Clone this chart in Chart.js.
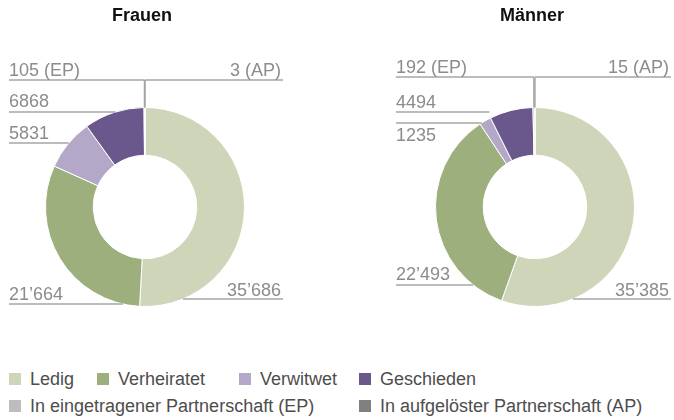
<!DOCTYPE html>
<html>
<head>
<meta charset="utf-8">
<script src="https://cdn.jsdelivr.net/npm/chart.js@4.4.0/dist/chart.umd.min.js"></script>
<style>
  html, body { margin: 0; padding: 0; background: #fff; }
  body { width: 674px; height: 420px; position: relative; overflow: hidden;
         font-family: "Liberation Sans", Arial, sans-serif; }
  .box { position: absolute; top: 0; }
  .title { position: absolute; top: 6px; font-weight: bold; font-size: 18px; line-height: 18px;
           color: #111; transform: translateX(-50%); white-space: nowrap; }
  .leg { position: absolute; font-size: 18px; line-height: 18px; color: #4d4d4d; white-space: nowrap; }
  .sw { position: absolute; width: 12px; height: 12px; }
</style>
</head>
<body>
<div class="box" style="left:0;width:290px;height:330px"><canvas id="frauenChart" width="290" height="330"></canvas></div>
<div class="box" style="left:396px;width:278px;height:330px"><canvas id="maennerChart" width="278" height="330"></canvas></div>
<div class="title" style="left:142px">Frauen</div>
<div class="title" style="left:532px">Männer</div>
<div id="legend"></div>

<script>
// categories + values
const categories = [
  "Ledig", "Verheiratet", "Verwitwet", "Geschieden",
  "In eingetragener Partnerschaft (EP)", "In aufgelöster Partnerschaft (AP)"
];
const shortCodes = ["", "", "", "", "EP", "AP"];
const frauenValues = [35686, 21664, 5831, 6868, 105, 3];
const maennerValues = [35385, 22493, 1235, 4494, 192, 15];

const colors = ["#cfd5b9", "#9daf7c", "#b3a8c8", "#6a588c", "#bdbdbd", "#808080"];

/* ===== label layout (style only) ===== */
const frauenLabels = {
  leftX: 9, rightX: 283,
  items: [
    { side: "right", lineY: 299, textY: 296 },
    { side: "left", lineY: 304, textY: 300 },
    { side: "left", lineY: 143, textY: 139 },
    { side: "left", lineY: 112, textY: 107 },
    { side: "left", lineY: 80, textY: 76, vertical: true },
    { side: "right", lineY: 80, textY: 76, vertical: true }
  ]
};
const maennerLabels = {
  leftX: 0, rightX: 275,
  items: [
    { side: "right", lineY: 299, textY: 296 },
    { side: "left", lineY: 285, textY: 280 },
    { side: "left", lineY: 123, textY: 141 },
    { side: "left", lineY: 112, textY: 108, trim: 16 },
    { side: "left", lineY: 77, textY: 73, vertical: true },
    { side: "right", lineY: 77, textY: 73, vertical: true }
  ]
};

function fmt(v, i) {
  let s = String(v);
  if (v >= 10000) s = s.slice(0, s.length - 3) + "\u2019" + s.slice(-3);
  if (shortCodes[i]) s += " (" + shortCodes[i] + ")";
  return s;
}

const leaderPlugin = {
  id: "leaderLabels",
  afterDraw(chart, args, opts) {
    const ctx = chart.ctx;
    const meta = chart.getDatasetMeta(0);
    const values = chart.data.datasets[0].data;
    const layout = opts.layout;
    ctx.save();
    ctx.font = '18px "Liberation Sans", Arial, sans-serif';
    ctx.fillStyle = "#8c8c8c";
    ctx.strokeStyle = "#a6a6a6";
    ctx.lineWidth = 1.5;
    meta.data.forEach((arc, i) => {
      const it = layout.items[i];
      const p = arc.getProps(["x", "y", "startAngle", "endAngle", "outerRadius"], true);
      let endX;
      ctx.beginPath();
      if (it.vertical) {
        const mid = (p.startAngle + p.endAngle) / 2;
        const ax = p.x + Math.cos(mid) * p.outerRadius;
        const ay = p.y + Math.sin(mid) * p.outerRadius;
        endX = ax;
        ctx.moveTo(ax, ay);
        ctx.lineTo(ax, it.lineY);
      } else {
        const dy = it.lineY - p.y;
        const dx = Math.sqrt(Math.max(p.outerRadius * p.outerRadius - dy * dy, 0));
        endX = it.side === "left" ? p.x - dx - (it.trim || 0) : p.x + dx + (it.trim || 0);
      }
      if (it.side === "left") {
        ctx.moveTo(layout.leftX, it.lineY);
        ctx.lineTo(endX, it.lineY);
      } else {
        ctx.moveTo(endX, it.lineY);
        ctx.lineTo(layout.rightX, it.lineY);
      }
      ctx.stroke();
      const txt = fmt(values[i], i);
      if (it.side === "left") {
        ctx.textAlign = "left";
        ctx.fillText(txt, layout.leftX, it.textY);
      } else {
        ctx.textAlign = "right";
        ctx.fillText(txt, layout.rightX - 2, it.textY);
      }
    });
    ctx.restore();
  }
};

function makeDonut(id, values, pad, layout) {
  return new Chart(document.getElementById(id), {
    type: "doughnut",
    data: {
      labels: categories,
      datasets: [{
        data: values,
        backgroundColor: colors,
        borderColor: "#ffffff",
        borderWidth: 1
      }]
    },
    options: {
      responsive: false,
      animation: false,
      cutout: "52%",
      layout: { padding: pad },
      plugins: {
        legend: { display: false },
        tooltip: { enabled: false },
        leaderLabels: { layout: layout }
      }
    },
    plugins: [leaderPlugin]
  });
}

makeDonut("frauenChart", frauenValues, { left: 45, right: 45, top: 107, bottom: 23 }, frauenLabels);
makeDonut("maennerChart", maennerValues, { left: 39, right: 39, top: 107, bottom: 23 }, maennerLabels);

/* ===== legend ===== */
const legendPos = [[9, 372], [97, 372], [239, 372], [359, 372], [9, 399], [359, 399]];
const legend = document.getElementById("legend");
categories.forEach((c, i) => {
  const [x, y] = legendPos[i];
  const sw = document.createElement("div");
  sw.className = "sw";
  sw.style.left = x + "px";
  sw.style.top = (y + 1) + "px";
  sw.style.background = colors[i];
  legend.appendChild(sw);
  const t = document.createElement("div");
  t.className = "leg";
  t.style.left = (x + 21) + "px";
  t.style.top = (y - 2) + "px";
  t.innerText = c;
  legend.appendChild(t);
});
</script>
</body>
</html>
